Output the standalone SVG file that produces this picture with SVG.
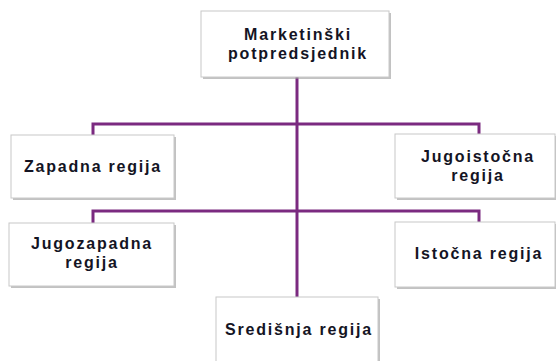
<svg xmlns="http://www.w3.org/2000/svg" width="556" height="361" viewBox="0 0 556 361">
<defs>
<style>
.box{fill:#fff;stroke:#c8c8c8;stroke-width:1}
.sh{fill:#9a9a9a;opacity:0.6}
.t{font-family:"Liberation Sans",Arial,sans-serif;font-weight:700;font-size:16px;letter-spacing:1.8px;fill:#141424;text-anchor:middle}
.c{fill:none;stroke:#7b2a80;stroke-width:3}
</style>
</defs>
<rect width="556" height="361" fill="#fff"/>
<g id="connectors">
<line class="c" x1="297" y1="77" x2="297" y2="298"/>
<polyline class="c" points="93,135 93,124 479,124 479,134"/>
<polyline class="c" points="93,223 93,211 479,211 479,222"/>
</g>
<g id="n_top">
<rect class="sh" x="203" y="13" width="188" height="66"/>
<rect class="box" x="201" y="11" width="188" height="66"/>
<text class="t" x="298" y="40">Marketinški</text>
<text class="t" x="298" y="59">potpredsjednik</text>
</g>
<g id="n_zapadna">
<rect class="sh" x="13" y="137" width="163" height="63"/>
<rect class="box" x="11" y="135" width="163" height="63"/>
<text class="t" x="93" y="172">Zapadna regija</text>
</g>
<g id="n_jugoistocna">
<rect class="sh" x="397" y="136" width="160" height="64"/>
<rect class="box" x="395" y="134" width="160" height="64"/>
<text class="t" x="478" y="162">Jugoistočna</text>
<text class="t" x="478" y="181">regija</text>
</g>
<g id="n_jugozapadna">
<rect class="sh" x="11" y="225" width="165" height="63"/>
<rect class="box" x="9" y="223" width="165" height="63"/>
<text class="t" x="92" y="249">Jugozapadna</text>
<text class="t" x="92" y="268">regija</text>
</g>
<g id="n_istocna">
<rect class="sh" x="397" y="224" width="160" height="65"/>
<rect class="box" x="395" y="222" width="160" height="65"/>
<text class="t" x="479" y="259">Istočna regija</text>
</g>
<g id="n_sredisnja">
<rect class="sh" x="218" y="299" width="162" height="70"/>
<rect class="box" x="216" y="297" width="162" height="70"/>
<text class="t" x="299" y="335">Središnja regija</text>
</g>
</svg>
